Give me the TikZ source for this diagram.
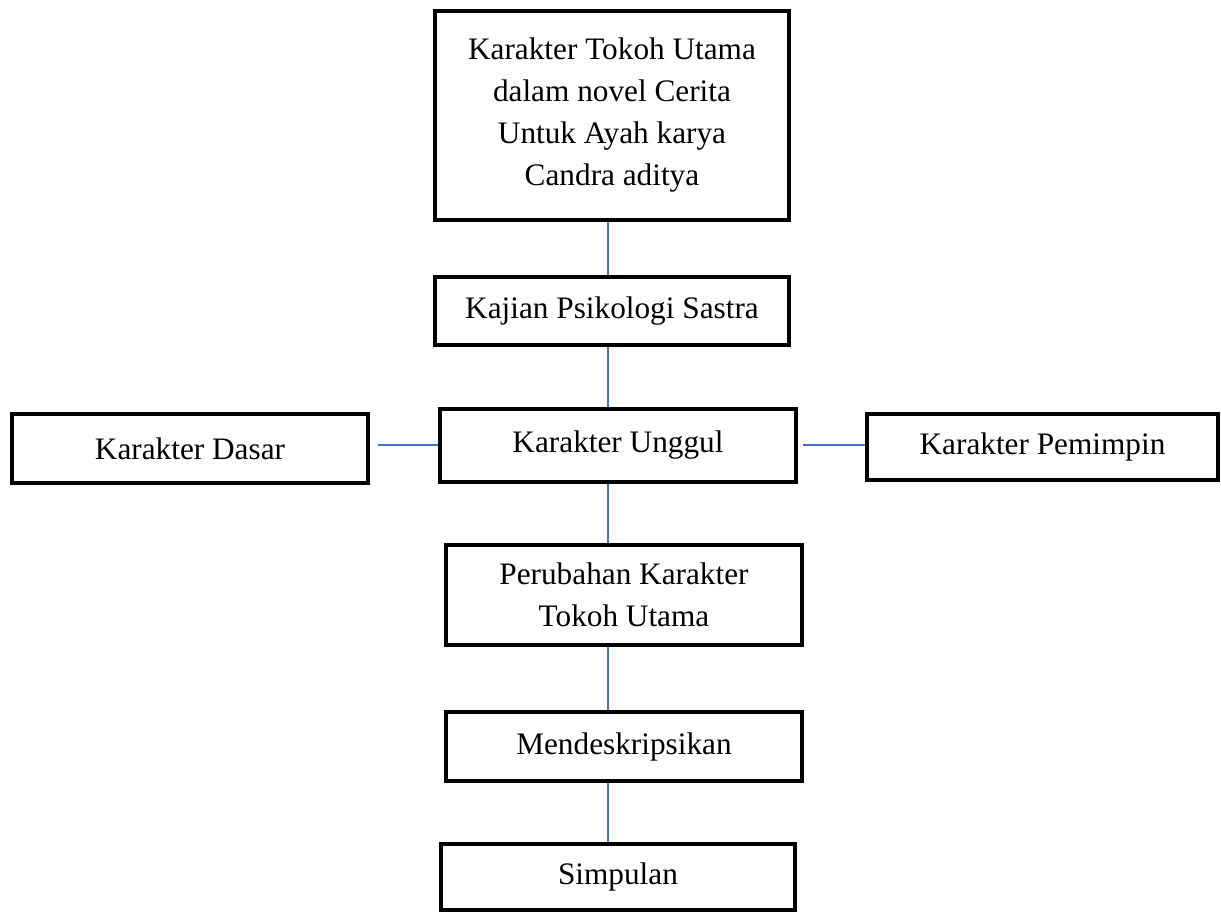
\documentclass[tikz,border=0pt]{standalone}
\usepackage{fontspec}
\setmainfont{Liberation Serif}
\definecolor{linkblue}{RGB}{68,114,196}

\begin{document}
\begin{tikzpicture}[x=0.02cm, y=-0.02cm,
	box/.style = {draw, line width=0.08cm, align=center, inner sep=0pt,
		font=\fontsize{17.8pt}{23.9pt}\selectfont},
	link/.style = {draw=linkblue, line width=0.04cm}]
	\useasboundingbox (0,0) rectangle (1221,914);
	\node[box, minimum width=7.08cm, minimum height=4.18cm] (top) at (612,115.5)
		{Karakter Tokoh Utama\\dalam novel Cerita\\Untuk Ayah karya\\Candra aditya};
	\node[box, minimum width=7.08cm, minimum height=1.36cm] (kajian) at (612,311)
		{Kajian Psikologi Sastra};
	\node[box, minimum width=7.12cm, minimum height=1.46cm] (unggul) at (618,445)
		{Karakter Unggul};
	\node[box, minimum width=7.12cm, minimum height=1.38cm] (dasar) at (190,448.5)
		{Karakter Dasar};
	\node[box, minimum width=7.02cm, minimum height=1.32cm] (pemimpin) at (1042.5,447)
		{Karakter Pemimpin};
	\node[box, minimum width=7.12cm, minimum height=2.00cm] (perubahan) at (624,595)
		{Perubahan Karakter\\Tokoh Utama};
	\node[box, minimum width=7.12cm, minimum height=1.38cm] (deskripsi) at (624,746.5)
		{Mendeskripsikan};
	\node[box, minimum width=7.08cm, minimum height=1.32cm] (simpulan) at (618,877)
		{Simpulan};
	% garis penghubung
	\coordinate (spine) at (608,0);
	\draw[link] (top.south -| spine) -- (kajian.north -| spine);
	\draw[link] (kajian.south -| spine) -- (unggul.north -| spine);
	\draw[link] (unggul.south -| spine) -- (perubahan.north -| spine);
	\draw[link] (perubahan.south -| spine) -- (deskripsi.north -| spine);
	\draw[link] (deskripsi.south -| spine) -- (simpulan.north -| spine);
	\draw[link, shorten >=0.16cm] (unggul.west) -- (dasar.east |- unggul.west);
	\draw[link, shorten <=0.1cm] (unggul.east) -- (pemimpin.west |- unggul.east);
\end{tikzpicture}
\end{document}
